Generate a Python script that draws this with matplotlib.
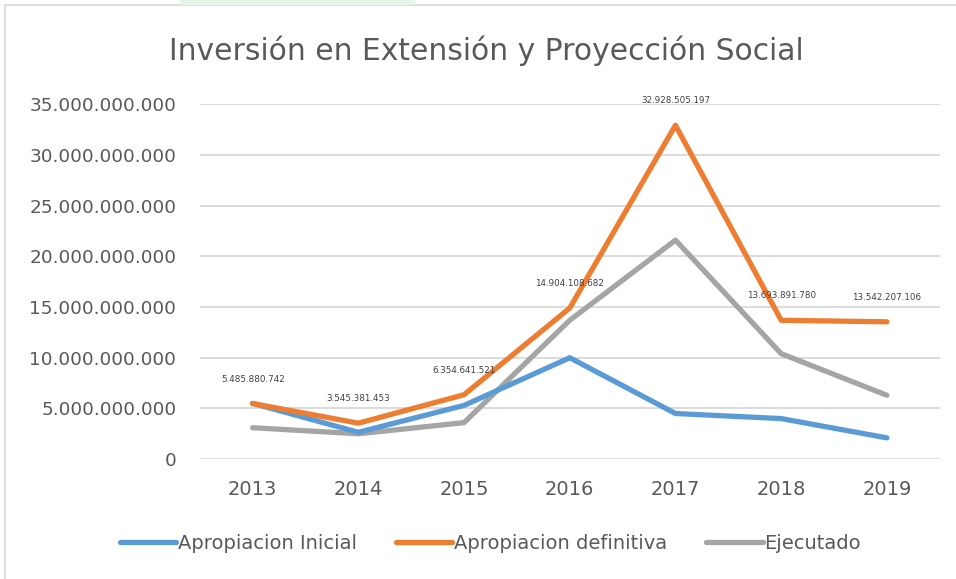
import numpy as np
import matplotlib
matplotlib.use("Agg")
import matplotlib.pyplot as plt
from matplotlib.patches import Rectangle

years = ["2013", "2014", "2015", "2016", "2017", "2018", "2019"]
inicial = [5.5e9, 2.65e9, 5.3e9, 10.0e9, 4.5e9, 4.0e9, 2.1e9]
definitiva = [5485880742, 3545381453, 6354641521, 14904108682,
              32928505197, 13693891780, 13542207106]
ejecutado = [3.1e9, 2.5e9, 3.6e9, 13.7e9, 21.6e9, 10.4e9, 6.3e9]
yticks = np.arange(0, 35e9 + 1, 5e9)

plt.rcParams['font.family'] = ['DejaVu Sans']

fig = plt.figure(figsize=(9.56, 5.79), dpi=100)
ax = fig.add_axes([0.209, 0.207, 0.774, 0.613])

x = np.arange(len(years))
ax.plot(x, inicial, color="#5B9BD5", lw=3.8, solid_capstyle="round", label="Apropiacion Inicial", zorder=3)
ax.plot(x, definitiva, color="#ED7D31", lw=3.8, solid_capstyle="round", label="Apropiacion definitiva", zorder=4)
ax.plot(x, ejecutado, color="#A5A5A5", lw=3.8, solid_capstyle="round", label="Ejecutado", zorder=2)

# etiquetas de datos de la serie naranja
for xi, v in zip(x, definitiva):
    s = f"{v:,}".replace(",", ".")
    ax.annotate(s, (xi, v), xytext=(0, 17.5), textcoords="offset points",
                ha="center", va="center", fontsize=6.3, color="#404040", zorder=5)

ax.set_xlim(-0.5, len(years) - 0.5)
ax.set_ylim(0, 35e9)
ax.set_yticks(yticks)
ax.set_yticklabels([f"{int(v):,}".replace(",", ".") for v in yticks])
ax.set_xticks(x)
ax.set_xticklabels(years)
ax.tick_params(length=0, labelsize=14, colors="#595959")
ax.tick_params(axis="x", pad=15)
ax.tick_params(axis="y", pad=17, labelsize=13.3)
ax.grid(axis="y", color="#D9D9D9", lw=1.3)
ax.set_axisbelow(True)
for sp in ax.spines.values():
    sp.set_visible(False)

fig.text(0.509, 0.913, "Inversión en Extensión y Proyección Social",
         ha="center", va="center", fontsize=21.4, color="#595959")

fig.legend(loc="center", bbox_to_anchor=(0.513, 0.062), ncol=3, frameon=False,
           fontsize=14, handlelength=2.9, handletextpad=0.1, columnspacing=2.0,
           labelcolor="#595959")

# borde del área del gráfico y recuadro verde superior
fig.patches.append(Rectangle((5 / 956, -0.1), 1.2, 1 - 5 / 579 + 0.1, transform=fig.transFigure,
                             fill=False, edgecolor="#D9D9D9", lw=1.2))
fig.patches.append(Rectangle((180 / 956, 1 - 5 / 579), 235 / 956, 5 / 579, transform=fig.transFigure,
                             facecolor="#E6F6EB", edgecolor="none"))

fig.savefig("out.png", dpi=100)
